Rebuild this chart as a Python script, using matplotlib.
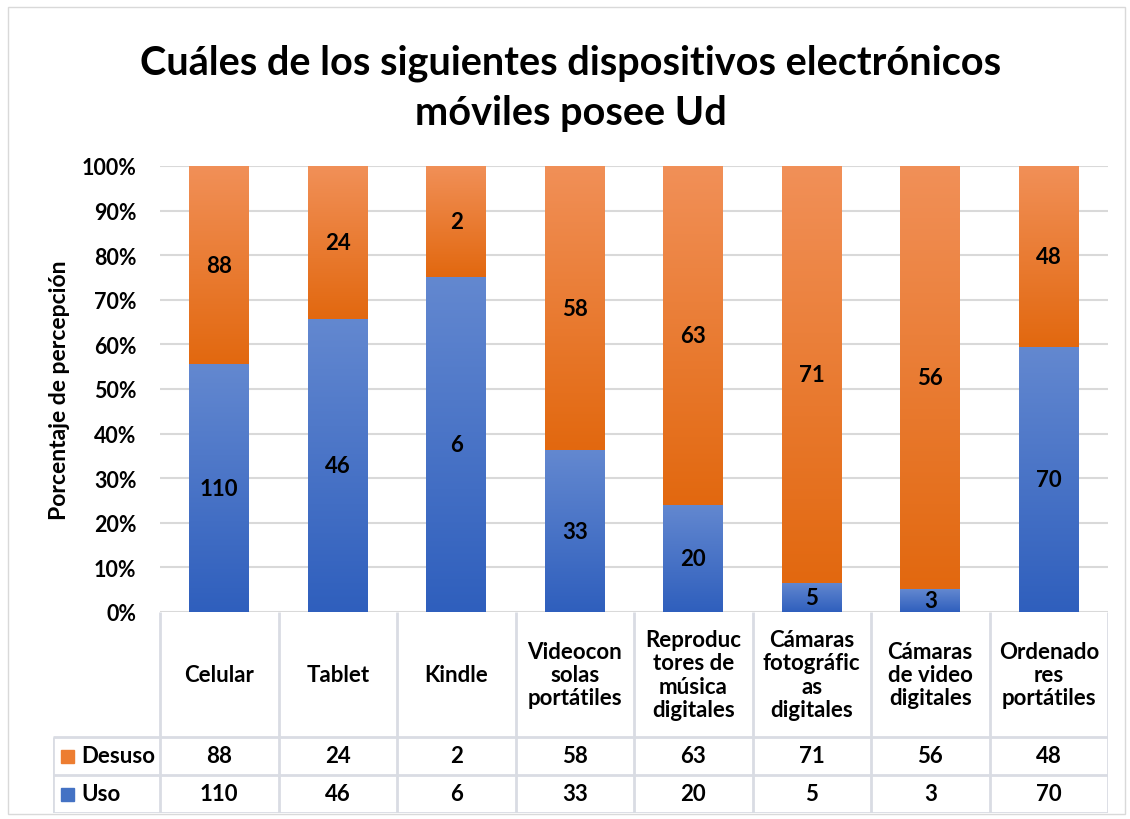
import numpy as np
import matplotlib.pyplot as plt
from matplotlib.colors import LinearSegmentedColormap
from matplotlib.patches import Rectangle

plt.rcParams['font.family'] = ['Lato', 'DejaVu Sans']
plt.rcParams['font.weight'] = 'bold'
plt.rcParams['axes.labelweight'] = 'bold'

categories = ["Celular", "Tablet", "Kindle", "Videocon\nsolas\nportátiles",
              "Reproduc\ntores de\nmúsica\ndigitales", "Cámaras\nfotográfic\nas\ndigitales",
              "Cámaras\nde video\ndigitales", "Ordenado\nres\nportátiles"]
uso = [110, 46, 6, 33, 20, 5, 3, 70]
desuso = [88, 24, 2, 58, 63, 71, 56, 48]
series_names = ["Desuso", "Uso"]
yticks = [0, 0.1, 0.2, 0.3, 0.4, 0.5, 0.6, 0.7, 0.8, 0.9, 1.0]

W, H = 1130, 820
GRID = "#D9D9D9"
TABLE_LINE = "#D9DCE3"
FS = 16

uso_a = np.array(uso, dtype=float)
des_a = np.array(desuso, dtype=float)
tot = uso_a + des_a
p_uso = uso_a / tot
p_des = des_a / tot

blue_cmap = LinearSegmentedColormap.from_list("b", ["#2F5FBD", "#6388D0"])
orange_cmap = LinearSegmentedColormap.from_list("o", ["#E2680F", "#F19058"])

fig = plt.figure(figsize=(W / 100, H / 100), dpi=100)

# chart border
fig.patches.append(Rectangle((8 / W, 1 - 815 / H), (1125 - 8) / W, (815 - 8) / H,
                             transform=fig.transFigure, fill=False, edgecolor=GRID, lw=1))

x0, x1 = 160, 1108
ytop, ybot = 167, 613
ax = fig.add_axes([x0 / W, 1 - ybot / H, (x1 - x0) / W, (ybot - ytop) / H])
x = np.arange(len(categories)) + 0.5
bw = 60 / ((x1 - x0) / len(categories))

b_uso = ax.bar(x, p_uso, width=bw, color="none", zorder=2)
b_des = ax.bar(x, p_des, width=bw, bottom=p_uso, color="none", zorder=2)

grad = np.linspace(0, 1, 256).reshape(-1, 1)
for bars, cmap in ((b_uso, blue_cmap), (b_des, orange_cmap)):
    for p in bars:
        ax.imshow(grad, extent=[p.get_x(), p.get_x() + p.get_width(), p.get_y(), p.get_y() + p.get_height()],
                  origin="lower", aspect="auto", cmap=cmap, zorder=2)

for i in range(len(categories)):
    ax.text(x[i], p_uso[i] / 2, str(uso[i]), ha="center", va="center", fontsize=FS, color="black", zorder=3)
    ax.text(x[i], p_uso[i] + p_des[i] / 2, str(desuso[i]), ha="center", va="center", fontsize=FS,
            color="black", zorder=3)

ax.set_xlim(0, len(categories))
ax.set_ylim(0, 1)
ax.set_yticks(yticks)
ax.set_yticklabels([f"{int(round(t * 100))}%" for t in yticks], fontsize=15.5)
ax.tick_params(axis="y", length=0, pad=17)
ax.set_xticks([])
ax.grid(axis="y", color=GRID, lw=1.5, zorder=0)
ax.set_axisbelow(True)
for s in ax.spines.values():
    s.set_visible(False)
ax.set_ylabel("Porcentaje de percepción", fontsize=16.5)
ax.yaxis.set_label_coords(-(160 - 60) / (x1 - x0), 0.5)
ax.yaxis.label.set_va("center")

fig.text(0.505, 1 - 88 / H, "Cuáles de los siguientes dispositivos electrónicos\nmóviles posee Ud",
         ha="center", va="center", fontsize=28.5, linespacing=1.45)

# data table below the plot
colw = (x1 - x0) / len(categories)
leg_left = 53
tab = fig.add_axes([leg_left / W, 1 - 814 / H, (x1 - leg_left) / W, (814 - ybot) / H])
tab.set_xlim(-(x0 - leg_left) / colw, len(categories))
tab.set_ylim(814, ybot)
tab.axis("off")

r_head, r_des, r_uso, r_end = ybot, 738, 776, 814
lkw = dict(color=TABLE_LINE, lw=2, solid_capstyle="butt")
for i in range(len(categories) + 1):
    tab.plot([i, i], [r_head, r_end], **lkw)
lx = -(x0 - leg_left) / colw
tab.plot([lx, lx], [r_des, r_end], **lkw)
for yy in (r_des, r_uso, r_end):
    tab.plot([lx, len(categories)], [yy, yy], **lkw)

for i, c in enumerate(categories):
    tab.text(x[i], (r_head + r_des) / 2, c, ha="center", va="center", fontsize=FS, linespacing=1.12)
    tab.text(x[i], (r_des + r_uso) / 2, str(desuso[i]), ha="center", va="center", fontsize=FS)
    tab.text(x[i], (r_uso + r_end) / 2, str(uso[i]), ha="center", va="center", fontsize=FS)

sq = 13 / colw
for name, col, (ra, rb) in zip(series_names, ("#ED7D31", "#4472C4"), ((r_des, r_uso), (r_uso, r_end))):
    yc = (ra + rb) / 2
    tab.add_patch(Rectangle((lx + 8 / colw, yc - 6.5), sq, 13, color=col))
    tab.text(lx + 28 / colw, yc, name, ha="left", va="center", fontsize=FS)

fig.savefig("out.png", dpi=100)
